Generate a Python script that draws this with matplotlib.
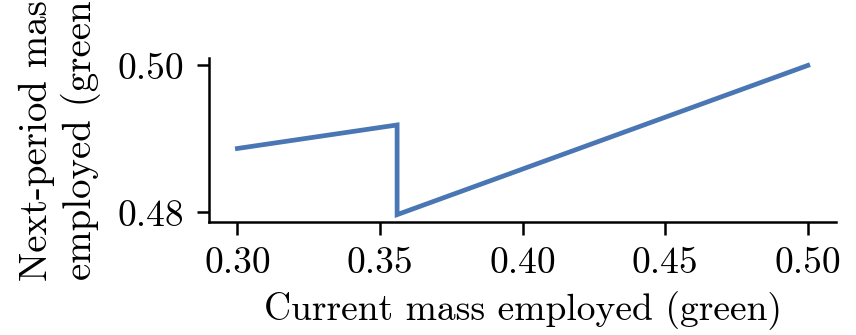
import matplotlib
matplotlib.use("Agg")
import matplotlib.pyplot as plt

x_vals = [0.30, 0.356, 0.356, 0.50]
y_vals = [0.4887, 0.4919, 0.4797, 0.5000]
x_ticks = [0.30, 0.35, 0.40, 0.45, 0.50]
y_ticks = [0.48, 0.50]

plt.rcParams['font.family'] = 'cmr10'
plt.rcParams['mathtext.fontset'] = 'cm'
plt.rcParams['axes.formatter.use_mathtext'] = True
plt.rcParams['font.size'] = 27

fig = plt.figure(figsize=(8.56, 3.35), dpi=100)
ax = fig.add_axes([0.244, 0.337, 0.733, 0.49])
ax.plot(x_vals, y_vals, color='#4A76B4', lw=3.4, solid_joinstyle='miter')
ax.set_xticks(x_ticks)
ax.set_yticks(y_ticks)
ax.set_xticklabels([f"{v:.2f}" for v in x_ticks])
ax.set_yticklabels([f"{v:.2f}" for v in y_ticks])
for s in ['top', 'right']:
    ax.spines[s].set_visible(False)
for s in ['left', 'bottom']:
    ax.spines[s].set_linewidth(1.8)
ax.tick_params(width=1.8, length=9, pad=9)
ax.set_xlabel("Current mass employed (green)", labelpad=8)
ax.set_ylabel("Next-period mass\nemployed (green)", fontsize=28)
ax.yaxis.set_label_coords(-0.172, 0.545)
fig.savefig("out.png", dpi=100)
